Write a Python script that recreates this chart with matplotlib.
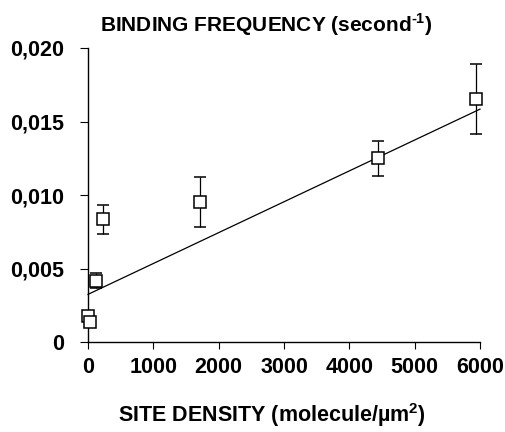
import numpy as np
import matplotlib
matplotlib.use("Agg")
import matplotlib.pyplot as plt
from matplotlib.ticker import FuncFormatter

# values
site_density = [0, 25, 120, 225, 1715, 4440, 5946]
binding_freq = [0.0018, 0.00136, 0.00417, 0.00835, 0.00954, 0.0125, 0.01653]
freq_err = [0.0002, 0.0002, 0.0005, 0.001, 0.0017, 0.0012, 0.0024]

# regression line as drawn in the figure
fit_intercept = 0.00324
fit_slope = 2.1e-6
fit_x = [0, 6000]

plt.rcParams['font.family'] = ['Liberation Sans', 'DejaVu Sans']
plt.rcParams['font.weight'] = 'bold'
plt.rcParams['mathtext.fontset'] = 'custom'
plt.rcParams['mathtext.rm'] = 'Liberation Sans:bold'
plt.rcParams['mathtext.bf'] = 'Liberation Sans:bold'

fig = plt.figure(figsize=(5.06, 4.32), dpi=100)
ax = fig.add_axes([0.1739, 0.2083, 0.9486 - 0.1739, 0.8889 - 0.2083])

fx = np.array(fit_x)
ax.plot(fx, fit_intercept + fit_slope * fx, color="black", lw=0.9)

ax.errorbar(site_density, binding_freq, yerr=freq_err, fmt="s", mfc="white",
            mec="black", ms=9, mew=1.1, ecolor="black", elinewidth=0.9,
            capsize=4, capthick=0.9, clip_on=False, zorder=3)
for c in ax.collections + ax.lines:
    c.set_clip_on(False)

ax.set_xlim(0, 6000)
ax.set_ylim(0, 0.02)
ax.set_xticks([0, 1000, 2000, 3000, 4000, 5000, 6000])
ax.set_yticks([0, 0.005, 0.010, 0.015, 0.020])
ax.yaxis.set_major_formatter(FuncFormatter(
    lambda v, p: "0" if v == 0 else ("%.3f" % v).replace(".", ",")))

ax.spines['top'].set_visible(False)
ax.spines['right'].set_visible(False)
ax.spines['left'].set_linewidth(1.0)
ax.spines['bottom'].set_linewidth(1.0)
ax.tick_params(axis='y', direction='out', length=6, width=0.8, labelsize=15.5, pad=11)
ax.tick_params(axis='x', direction='out', length=5, width=0.8, labelsize=15.5, pad=6)
for lab in ax.get_xticklabels() + ax.get_yticklabels():
    lab.set_fontweight('bold')

fig.text(0.526, 0.942, r"BINDING FREQUENCY (second$^{\text{-1}}$)",
         ha="center", va="center", fontsize=15, fontweight="bold")
fig.text(0.538, 0.039, r"SITE DENSITY (molecule/µm$^{\text{2}}$)",
         ha="center", va="center", fontsize=15.5, fontweight="bold")

fig.savefig("out.png", dpi=100)
